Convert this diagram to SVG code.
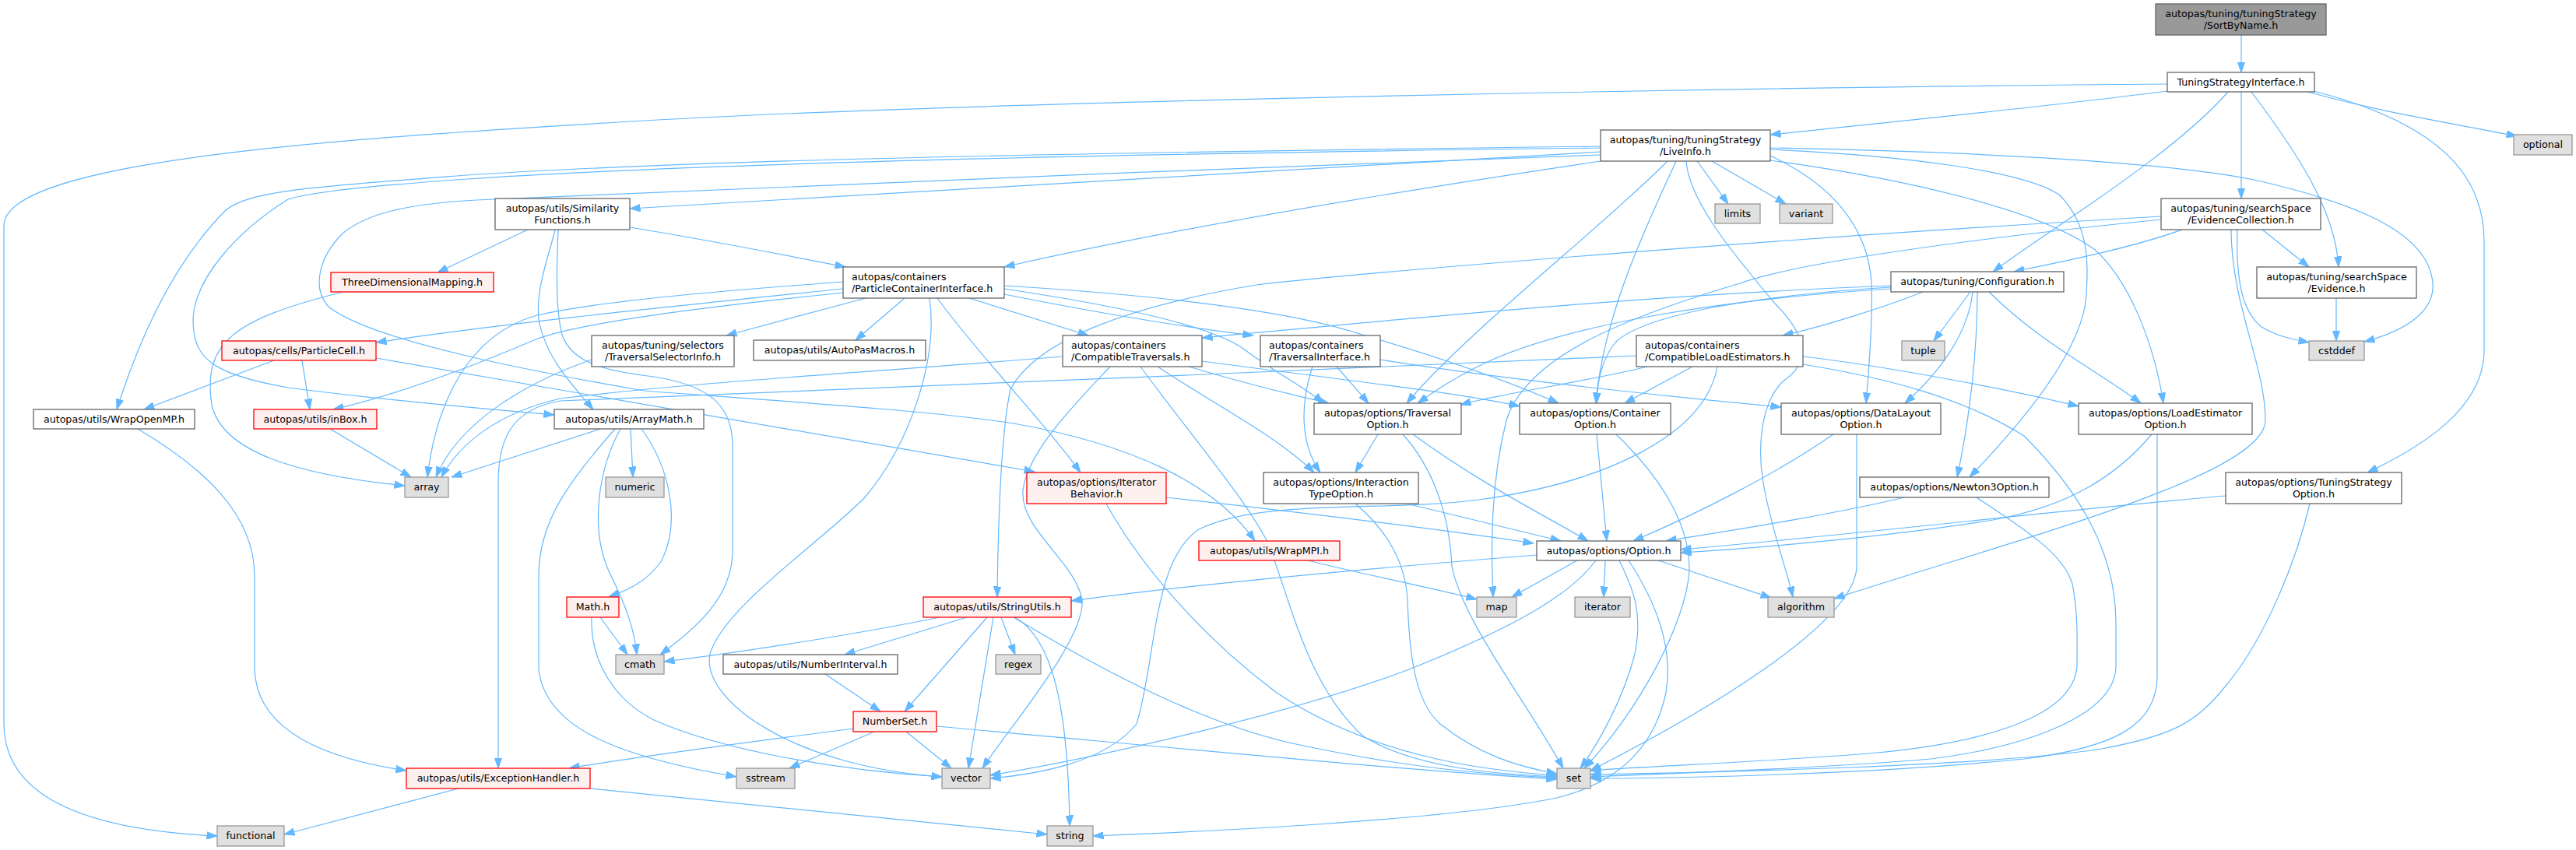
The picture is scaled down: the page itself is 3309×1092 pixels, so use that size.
<svg xmlns="http://www.w3.org/2000/svg" width="3309" height="1092" viewBox="0 0 3309 1092">
<style>
.e path{fill:none;stroke:#63b8ff;stroke-width:1.2;marker-end:url(#a)}
rect{stroke-width:1.3}
.n rect{fill:#ffffff;stroke:#666666}
.x rect{fill:#e0e0e0;stroke:#999999}
.r rect{fill:#fff0f0;stroke:#ff0000}
.root rect{fill:#999999;stroke:#666666}
text{font-family:"DejaVu Sans","Liberation Sans",sans-serif;font-size:12.65px;fill:#000000;text-anchor:middle}
text.l{text-anchor:start}
</style>
<defs>
<marker id="a" markerWidth="14" markerHeight="10" refX="13.5" refY="5" orient="auto" markerUnits="userSpaceOnUse" viewBox="0 0 14 10"><path d="M0,0.3 L13.5,5 L0,9.7 z" fill="#63b8ff" stroke="#63b8ff" stroke-width="1"/></marker>
</defs>
<rect x="0" y="0" width="3309" height="1092" fill="#ffffff" stroke="none"/>
<g id="edges" class="e">
<path d="M2879,45 L2879,93"/>
<path d="M2784,117 C2620,138 2420,158 2274,173"/>
<path d="M2784,108 C2300,112 1300,128 828,155 C450,177 5,205 5,290 L5,930 C5,1040 150,1068 279,1074"/>
<path d="M2862,118 C2790,200 2640,290 2560,349"/>
<path d="M2879,118 L2879,255"/>
<path d="M2892,118 C2950,195 3000,270 3004,343"/>
<path d="M2961,117 C3060,145 3160,160 3233,175"/>
<path d="M2972,117 C3140,160 3191,230 3191,310 L3191,450 C3191,520 3120,570 3041,607"/>
<path d="M2803,295 C2740,318 2650,336 2587,349"/>
<path d="M2906,295 L2966,343"/>
<path d="M2874,295 C2872,360 2880,400 2905,420 C2925,432 2945,436 2966,440"/>
<path d="M2866,295 C2866,390 2910,470 2910,540 C2910,610 2600,690 2356,769"/>
<path d="M2776,278 C2300,305 1750,350 1614,366 C1440,395 1330,440 1298,500 C1285,560 1282,680 1281,767"/>
<path d="M2776,282 C2500,310 2300,340 2235,364 C2080,410 1960,460 1935,540 C1915,620 1915,700 1918,767"/>
<path d="M3001,383 L3001,438"/>
<path d="M2429,367 C2100,380 1800,410 1544,434"/>
<path d="M2470,375 C2420,395 2340,420 2290,431"/>
<path d="M2429,371 C2200,385 2000,420 1900,470 C1860,490 1840,505 1821,518"/>
<path d="M2429,369 C2250,380 2110,405 2075,440 C2055,465 2052,495 2051,518"/>
<path d="M2534,375 C2528,430 2490,480 2447,518"/>
<path d="M2531,375 L2484,438"/>
<path d="M2540,375 C2540,450 2530,540 2514,613"/>
<path d="M2555,375 C2620,440 2700,480 2750,518"/>
<path d="M2316,458 C2420,470 2580,500 2670,522"/>
<path d="M2316,468 C2420,485 2520,510 2600,560 C2660,620 2718,700 2718,800 L2718,855 C2718,920 2600,960 2480,975 C2300,990 2100,995 2043,998"/>
<path d="M2116,471 C2040,490 1930,505 1876,520"/>
<path d="M2174,471 L2087,518"/>
<path d="M2206,471 C2190,560 2060,620 1900,642 C1780,658 1620,640 1540,680 C1480,720 1485,850 1460,930 C1420,980 1330,995 1272,1000"/>
<path d="M2102,457 C1700,478 1000,500 720,515 C660,525 640,560 640,620 L640,987"/>
<path d="M1365,458 C1100,480 900,490 720,512 C640,530 590,570 567,613"/>
<path d="M1527,471 C1590,490 1650,505 1707,518"/>
<path d="M1544,464 C1700,485 1880,505 1952,522"/>
<path d="M1487,471 C1560,520 1640,560 1688,607"/>
<path d="M1426,471 C1380,520 1320,580 1314,630 C1310,680 1380,720 1390,770 C1395,820 1300,930 1262,987"/>
<path d="M1465,471 C1530,560 1600,640 1630,700 C1660,780 1680,880 1750,945 C1820,990 1940,995 2000,998"/>
<path d="M1083,362 C950,372 780,385 690,405 C600,430 560,520 549,613"/>
<path d="M1083,371 C850,395 650,415 483,440"/>
<path d="M1083,376 C900,395 740,415 686,437 C620,465 520,505 428,526"/>
<path d="M1112,383 L933,431"/>
<path d="M1162,383 L1099,437"/>
<path d="M1194,383 C1205,460 1170,570 1110,640 C1050,700 930,780 912,840 C900,900 1020,985 1210,998"/>
<path d="M1204,383 C1260,460 1340,540 1388,607"/>
<path d="M1245,383 L1398,431"/>
<path d="M1290,378 C1400,400 1520,420 1610,431"/>
<path d="M1290,367 C1500,380 1660,400 1750,430 C1870,465 1950,495 2002,518"/>
<path d="M1290,371 C1450,395 1560,420 1600,450 C1640,480 1680,500 1700,518"/>
<path d="M809,292 C920,310 1020,330 1086,343"/>
<path d="M678,295 L562,350"/>
<path d="M713,295 C705,330 688,370 692,410 C700,460 740,500 762,526"/>
<path d="M717,295 C716,330 712,390 722,430 C735,470 790,478 840,484 C910,495 940,520 941,570 L941,710 C940,770 890,810 848,841"/>
<path d="M2056,195 C1600,222 1100,250 809,268"/>
<path d="M2056,207 C1800,245 1500,295 1290,343"/>
<path d="M2056,188 C1400,196 900,205 600,225 C400,240 320,245 290,270 C240,320 190,400 150,526"/>
<path d="M2056,190 C1400,198 900,210 600,230 C430,242 390,250 370,256 C300,300 250,360 248,410 C248,460 270,480 370,498 C500,515 620,525 712,533"/>
<path d="M2056,199 C1600,215 1000,240 612,257 C520,262 470,275 440,300 C410,330 400,370 422,394 C480,440 700,480 827,502 C1000,515 1200,528 1302,544 C1450,570 1560,620 1612,695"/>
<path d="M2142,207 C2060,290 1880,430 1807,518"/>
<path d="M2153,207 C2120,280 2060,400 2050,518"/>
<path d="M2166,207 C2170,260 2230,330 2280,390 C2330,440 2320,470 2290,490 C2260,520 2258,580 2265,620 C2275,680 2295,730 2303,767"/>
<path d="M2180,207 L2220,262"/>
<path d="M2199,207 L2294,262"/>
<path d="M2274,200 C2350,235 2400,290 2404,364 C2406,420 2400,480 2397,518"/>
<path d="M2274,190 C2550,195 2800,210 2900,232 C3030,262 3120,300 3125,364 C3128,400 3090,425 3037,439"/>
<path d="M2274,192 C2450,200 2600,220 2645,250 C2685,290 2682,340 2680,380 C2675,450 2600,540 2530,613"/>
<path d="M2274,206 C2450,230 2620,270 2690,320 C2730,355 2765,430 2779,518"/>
<path d="M441,375 C300,410 260,440 272,520 C285,580 380,610 520,624"/>
<path d="M352,463 L185,526"/>
<path d="M388,463 L398,526"/>
<path d="M483,460 L1329,606"/>
<path d="M424,551 L528,613"/>
<path d="M760,462 C680,490 590,540 560,613"/>
<path d="M177,551 C260,600 327,660 327,740 L327,860 C330,940 420,975 522,990"/>
<path d="M771,551 L580,613"/>
<path d="M810,551 L813,613"/>
<path d="M824,551 C860,600 875,670 850,720 C830,750 800,760 782,767"/>
<path d="M797,551 C770,600 755,680 785,740 C805,780 815,810 818,841"/>
<path d="M790,551 C730,620 692,670 692,740 L692,860 C700,930 780,970 946,998"/>
<path d="M771,793 L806,841"/>
<path d="M760,793 C758,850 790,900 840,925 C930,965 1080,990 1210,998"/>
<path d="M589,1013 L365,1072"/>
<path d="M758,1013 L1345,1072"/>
<path d="M1207,793 C1100,815 950,838 853,850"/>
<path d="M1242,793 L1085,841"/>
<path d="M1268,793 L1162,914"/>
<path d="M1276,793 L1244,987"/>
<path d="M1286,793 L1304,841"/>
<path d="M1304,793 C1350,820 1372,900 1374,1061"/>
<path d="M1302,793 C1430,870 1550,930 1660,955 C1800,985 1900,995 2000,999"/>
<path d="M1060,866 L1131,914"/>
<path d="M1096,936 C950,955 800,975 731,987"/>
<path d="M1123,940 L1014,987"/>
<path d="M1164,940 L1222,987"/>
<path d="M1203,933 C1450,955 1800,990 2000,1001"/>
<path d="M1974,713 C1700,735 1500,755 1376,772"/>
<path d="M2026,720 L1942,767"/>
<path d="M2050,720 C2020,760 1960,800 1810,860 C1650,920 1400,975 1272,996"/>
<path d="M2062,720 L2060,767"/>
<path d="M2080,720 C2100,760 2110,790 2100,840 C2085,900 2050,960 2030,987"/>
<path d="M2092,720 C2125,770 2150,830 2140,890 C2125,960 2080,1005 2000,1025 C1850,1055 1550,1068 1404,1074"/>
<path d="M2130,720 L2275,768"/>
<path d="M1770,558 L1741,607"/>
<path d="M1815,558 C1900,620 1980,660 2040,695"/>
<path d="M1802,558 C1840,600 1862,660 1865,728 C1880,800 1960,900 2008,987"/>
<path d="M2051,558 L2064,695"/>
<path d="M2076,558 C2130,610 2170,670 2170,730 C2168,800 2100,920 2035,987"/>
<path d="M1807,647 L2005,695"/>
<path d="M1741,647 C1780,680 1805,720 1808,770 C1810,830 1815,900 1850,930 C1900,970 1950,985 2000,994"/>
<path d="M2355,558 C2280,610 2180,660 2098,695"/>
<path d="M2385,558 L2385,730 C2380,800 2200,910 2043,990"/>
<path d="M2764,558 C2720,610 2660,650 2560,668 C2420,690 2250,705 2159,710"/>
<path d="M2771,558 L2771,870 C2770,930 2720,960 2600,975 C2400,995 2150,1000 2043,1000"/>
<path d="M2446,639 C2350,662 2220,682 2140,695"/>
<path d="M2539,639 C2600,680 2650,710 2662,750 C2670,790 2668,830 2668,855 C2665,920 2550,955 2400,968 C2250,980 2100,985 2043,990"/>
<path d="M2859,637 C2700,650 2350,690 2159,706"/>
<path d="M2967,647 C2950,720 2910,820 2860,880 C2820,930 2790,945 2700,962 C2550,985 2200,992 2043,995"/>
<path d="M1498,639 C1650,656 1850,680 1970,698"/>
<path d="M1421,647 C1450,700 1520,800 1640,890 C1760,970 1900,990 2000,996"/>
<path d="M1680,720 C1760,740 1840,755 1897,770"/>
<path d="M1717,471 L1758,518"/>
<path d="M1686,471 C1670,520 1670,570 1696,607"/>
<path d="M1773,462 C1950,490 2150,510 2288,523"/>
</g>
<g id="n1" class="root"><rect x="2769" y="5" width="219" height="40"/><text x="2878.5" y="21.8">autopas/tuning/tuningStrategy</text><text x="2878.5" y="36.8">/SortByName.h</text></g>
<g id="n2" class="n"><rect x="2784" y="93" width="189" height="25"/><text x="2878.5" y="110">TuningStrategyInterface.h</text></g>
<g id="n3" class="n"><rect x="2056" y="167" width="218" height="40"/><text x="2165" y="183.8">autopas/tuning/tuningStrategy</text><text x="2165" y="198.8">/LiveInfo.h</text></g>
<g id="n4" class="n"><rect x="636" y="255" width="173" height="40"/><text x="722.5" y="271.8">autopas/utils/Similarity</text><text x="722.5" y="286.8">Functions.h</text></g>
<g id="n5" class="n"><rect x="1083" y="343" width="207" height="40"/><text class="l" x="1094" y="359.8">autopas/containers</text><text class="l" x="1094" y="374.8">/ParticleContainerInterface.h</text></g>
<g id="n6" class="r"><rect x="425" y="350" width="209" height="25"/><text x="529.5" y="367">ThreeDimensionalMapping.h</text></g>
<g id="n7" class="r"><rect x="285" y="438" width="198" height="25"/><text x="384" y="455">autopas/cells/ParticleCell.h</text></g>
<g id="n8" class="n"><rect x="760" y="431" width="183" height="40"/><text x="851.5" y="447.8">autopas/tuning/selectors</text><text x="851.5" y="462.8">/TraversalSelectorInfo.h</text></g>
<g id="n9" class="n"><rect x="968" y="437" width="221" height="26"/><text x="1078.5" y="454">autopas/utils/AutoPasMacros.h</text></g>
<g id="n10" class="n"><rect x="1365" y="431" width="179" height="40"/><text class="l" x="1376" y="447.8">autopas/containers</text><text class="l" x="1376" y="462.8">/CompatibleTraversals.h</text></g>
<g id="n11" class="n"><rect x="1619" y="431" width="154" height="40"/><text class="l" x="1630" y="447.8">autopas/containers</text><text class="l" x="1630" y="462.8">/TraversalInterface.h</text></g>
<g id="n12" class="n"><rect x="2102" y="431" width="214" height="40"/><text class="l" x="2113" y="447.8">autopas/containers</text><text class="l" x="2113" y="462.8">/CompatibleLoadEstimators.h</text></g>
<g id="n13" class="n"><rect x="2429" y="349" width="222" height="26"/><text x="2540" y="366">autopas/tuning/Configuration.h</text></g>
<g id="n14" class="x"><rect x="2443" y="438" width="55" height="25"/><text x="2470.5" y="455">tuple</text></g>
<g id="n15" class="n"><rect x="2776" y="255" width="205" height="40"/><text x="2878.5" y="271.8">autopas/tuning/searchSpace</text><text x="2878.5" y="286.8">/EvidenceCollection.h</text></g>
<g id="n16" class="n"><rect x="2899" y="343" width="205" height="40"/><text x="3001.5" y="359.8">autopas/tuning/searchSpace</text><text x="3001.5" y="374.8">/Evidence.h</text></g>
<g id="n17" class="x"><rect x="2966" y="438" width="71" height="25"/><text x="3001.5" y="455">cstddef</text></g>
<g id="n18" class="x"><rect x="2203" y="262" width="58" height="25"/><text x="2232" y="279">limits</text></g>
<g id="n19" class="x"><rect x="2286" y="262" width="68" height="25"/><text x="2320" y="279">variant</text></g>
<g id="n20" class="x"><rect x="3229" y="173" width="75" height="26"/><text x="3266.5" y="190">optional</text></g>
<g id="n21" class="n"><rect x="43" y="526" width="207" height="25"/><text x="146.5" y="543">autopas/utils/WrapOpenMP.h</text></g>
<g id="n22" class="r"><rect x="326" y="526" width="158" height="25"/><text x="405" y="543">autopas/utils/inBox.h</text></g>
<g id="n23" class="n"><rect x="712" y="526" width="192" height="25"/><text x="808" y="543">autopas/utils/ArrayMath.h</text></g>
<g id="n24" class="x"><rect x="520" y="613" width="56" height="26"/><text x="548" y="630">array</text></g>
<g id="n25" class="x"><rect x="778" y="613" width="75" height="26"/><text x="815.5" y="630">numeric</text></g>
<g id="n26" class="r"><rect x="1319" y="607" width="179" height="40"/><text x="1408.5" y="623.8">autopas/options/Iterator</text><text x="1408.5" y="638.8">Behavior.h</text></g>
<g id="n27" class="n"><rect x="1623" y="607" width="199" height="40"/><text x="1722.5" y="623.8">autopas/options/Interaction</text><text x="1722.5" y="638.8">TypeOption.h</text></g>
<g id="n28" class="r"><rect x="1540" y="695" width="181" height="25"/><text x="1630.5" y="712">autopas/utils/WrapMPI.h</text></g>
<g id="n29" class="n"><rect x="1974" y="695" width="185" height="25"/><text x="2066.5" y="712">autopas/options/Option.h</text></g>
<g id="n30" class="n"><rect x="2288" y="518" width="205" height="40"/><text x="2390.5" y="534.8">autopas/options/DataLayout</text><text x="2390.5" y="549.8">Option.h</text></g>
<g id="n31" class="n"><rect x="2670" y="518" width="223" height="40"/><text x="2781.5" y="534.8">autopas/options/LoadEstimator</text><text x="2781.5" y="549.8">Option.h</text></g>
<g id="n32" class="n"><rect x="2389" y="613" width="243" height="26"/><text x="2510.5" y="630">autopas/options/Newton3Option.h</text></g>
<g id="n33" class="n"><rect x="2859" y="607" width="226" height="40"/><text x="2972" y="623.8">autopas/options/TuningStrategy</text><text x="2972" y="638.8">Option.h</text></g>
<g id="n34" class="n"><rect x="1688" y="518" width="189" height="40"/><text x="1782.5" y="534.8">autopas/options/Traversal</text><text x="1782.5" y="549.8">Option.h</text></g>
<g id="n35" class="n"><rect x="1952" y="518" width="194" height="40"/><text x="2049" y="534.8">autopas/options/Container</text><text x="2049" y="549.8">Option.h</text></g>
<g id="n36" class="r"><rect x="728" y="767" width="67" height="26"/><text x="761.5" y="784">Math.h</text></g>
<g id="n37" class="x"><rect x="791" y="841" width="62" height="25"/><text x="822" y="858">cmath</text></g>
<g id="n38" class="r"><rect x="1186" y="767" width="190" height="26"/><text x="1281" y="784">autopas/utils/StringUtils.h</text></g>
<g id="n39" class="n"><rect x="929" y="841" width="224" height="25"/><text x="1041" y="858">autopas/utils/NumberInterval.h</text></g>
<g id="n40" class="x"><rect x="1279" y="841" width="58" height="25"/><text x="1308" y="858">regex</text></g>
<g id="n41" class="r"><rect x="1096" y="914" width="107" height="26"/><text x="1149.5" y="931">NumberSet.h</text></g>
<g id="n42" class="x"><rect x="946" y="987" width="75" height="26"/><text x="983.5" y="1004">sstream</text></g>
<g id="n43" class="x"><rect x="1210" y="987" width="62" height="26"/><text x="1241" y="1004">vector</text></g>
<g id="n44" class="x"><rect x="1345" y="1061" width="59" height="26"/><text x="1374.5" y="1078">string</text></g>
<g id="n45" class="x"><rect x="1897" y="767" width="51" height="26"/><text x="1922.5" y="784">map</text></g>
<g id="n46" class="x"><rect x="2023" y="767" width="71" height="26"/><text x="2058.5" y="784">iterator</text></g>
<g id="n47" class="x"><rect x="2271" y="767" width="85" height="26"/><text x="2313.5" y="784">algorithm</text></g>
<g id="n48" class="x"><rect x="2000" y="987" width="43" height="26"/><text x="2021.5" y="1004">set</text></g>
<g id="n49" class="r"><rect x="522" y="987" width="236" height="26"/><text x="640" y="1004">autopas/utils/ExceptionHandler.h</text></g>
<g id="n50" class="x"><rect x="279" y="1061" width="86" height="26"/><text x="322" y="1078">functional</text></g>
</svg>
